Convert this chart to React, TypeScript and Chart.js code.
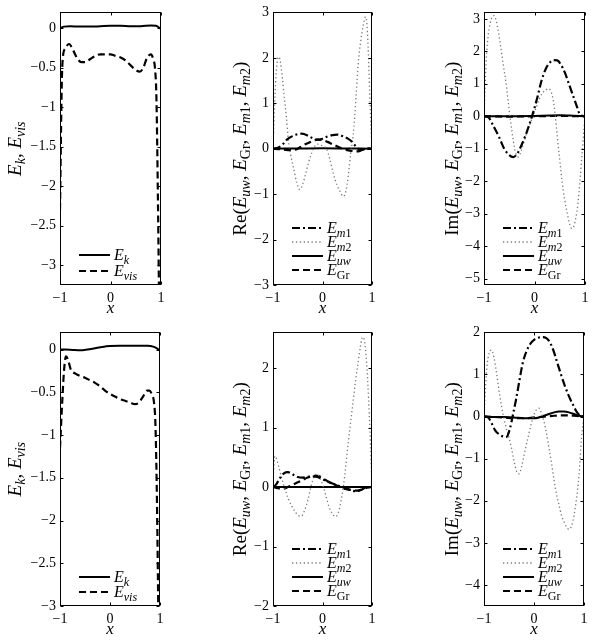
import React, { useEffect, useRef } from "react";
import { Chart, registerables } from "chart.js";

Chart.register(...registerables);

const SERIF = '"Liberation Serif", "Times New Roman", Times, serif';

// ---------------- tick labels ----------------
const xTickValues = [-1, 0, 1];
const p1YTicks = [0, -0.5, -1, -1.5, -2, -2.5, -3];
const p2YTicks = [-3, -2, -1, 0, 1, 2, 3];
const p3YTicks = [-5, -4, -3, -2, -1, 0, 1, 2, 3];
const p4YTicks = [0, -0.5, -1, -1.5, -2, -2.5, -3];
const p5YTicks = [-2, -1, 0, 1, 2];
const p6YTicks = [-4, -3, -2, -1, 0, 1, 2];

// ---------------- panel 1 (top left) ----------------
const p1EkX = [-1, -0.92, -0.8, -0.6, -0.4, -0.2, 0, 0.2, 0.4, 0.6, 0.8, 0.9, 1];
const p1EkY = [0, 0.02, 0.025, 0.02, 0.02, 0.025, 0.03, 0.03, 0.025, 0.025, 0.035, 0.03, -0.01];
const p1EvisX = [-1, -0.965, -0.94, -0.9, -0.82, -0.74, -0.66, -0.58, -0.5, -0.4, -0.3, -0.2, -0.1, 0, 0.1, 0.2, 0.3, 0.4, 0.5, 0.58, 0.65, 0.72, 0.8, 0.85, 0.88, 0.91, 0.94, 0.97, 1];
const p1EvisY = [-2.3, -0.7, -0.35, -0.26, -0.2, -0.28, -0.38, -0.43, -0.43, -0.39, -0.35, -0.33, -0.33, -0.33, -0.35, -0.37, -0.41, -0.47, -0.53, -0.55, -0.5, -0.38, -0.33, -0.4, -0.5, -0.9, -2.2, -3.8, -4.5];

// ---------------- panel 2 (top middle, Re) ----------------
const p2Em1X = [-1, -0.9, -0.8, -0.72, -0.6, -0.5, -0.42, -0.3, -0.2, -0.1, 0, 0.1, 0.2, 0.3, 0.4, 0.5, 0.58, 0.65, 0.72, 0.8, 0.9, 1];
const p2Em1Y = [0, 0.02, 0.1, 0.2, 0.28, 0.32, 0.33, 0.29, 0.23, 0.2, 0.22, 0.27, 0.3, 0.31, 0.28, 0.23, 0.17, 0.08, 0.0, -0.02, 0, 0];
const p2Em2X = [-1, -0.97, -0.94, -0.91, -0.88, -0.85, -0.81, -0.77, -0.73, -0.69, -0.64, -0.58, -0.52, -0.46, -0.4, -0.34, -0.28, -0.22, -0.16, -0.1, -0.04, 0.02, 0.08, 0.15, 0.22, 0.29, 0.36, 0.42, 0.47, 0.52, 0.57, 0.62, 0.65, 0.68, 0.72, 0.77, 0.82, 0.87, 0.9, 0.93, 0.96, 1];
const p2Em2Y = [0, 0.9, 1.6, 1.95, 2.02, 1.9, 1.55, 1.1, 0.7, 0.2, -0.15, -0.45, -0.75, -0.9, -0.78, -0.55, -0.3, -0.1, 0.05, 0.1, 0.08, 0.05, 0.0, -0.24, -0.55, -0.8, -0.95, -1.05, -0.95, -0.6, -0.1, 0.3, 0.7, 1.2, 1.85, 2.35, 2.7, 2.9, 2.7, 2.0, 1.0, 0];
const p2EuwX = [-1, -0.5, 0, 0.5, 1];
const p2EuwY = [0, 0.005, 0.01, 0.005, 0];
const p2EgrX = [-1, -0.85, -0.7, -0.6, -0.5, -0.4, -0.3, -0.2, -0.1, 0, 0.1, 0.2, 0.3, 0.4, 0.5, 0.6, 0.7, 0.8, 0.9, 1];
const p2EgrY = [0, -0.01, -0.03, -0.03, 0.0, 0.07, 0.12, 0.17, 0.2, 0.19, 0.15, 0.1, 0.05, 0.0, -0.03, -0.05, -0.06, -0.03, 0, 0];

// ---------------- panel 3 (top right, Im) ----------------
const p3Em1X = [-1, -0.92, -0.82, -0.7, -0.6, -0.5, -0.42, -0.34, -0.26, -0.18, -0.1, -0.02, 0.06, 0.14, 0.22, 0.3, 0.38, 0.45, 0.52, 0.6, 0.68, 0.76, 0.84, 0.9, 1];
const p3Em1Y = [0, -0.02, -0.28, -0.65, -1.0, -1.2, -1.26, -1.15, -0.9, -0.6, -0.25, 0.15, 0.6, 1.1, 1.45, 1.65, 1.73, 1.72, 1.6, 1.35, 1.0, 0.65, 0.3, 0.05, 0];
const p3Em2X = [-1, -0.96, -0.92, -0.88, -0.84, -0.8, -0.76, -0.72, -0.67, -0.62, -0.57, -0.52, -0.47, -0.42, -0.37, -0.32, -0.26, -0.2, -0.14, -0.08, -0.02, 0.04, 0.1, 0.16, 0.22, 0.28, 0.33, 0.37, 0.41, 0.45, 0.5, 0.55, 0.6, 0.65, 0.7, 0.74, 0.78, 0.82, 0.86, 0.9, 0.94, 0.97, 1];
const p3Em2Y = [0, 1.6, 2.45, 2.85, 3.05, 3.1, 2.95, 2.65, 2.15, 1.6, 1.1, 0.45, -0.2, -0.75, -1.15, -1.25, -1.05, -0.75, -0.45, -0.2, 0.05, 0.3, 0.55, 0.72, 0.8, 0.85, 0.75, 0.5, 0.05, -0.6, -1.35, -2.05, -2.6, -3.0, -3.35, -3.46, -3.38, -3.12, -2.7, -2.0, -1.2, -0.6, 0];
const p3EuwX = [-1, -0.5, 0, 0.3, 0.5, 0.7, 0.9, 1];
const p3EuwY = [0, 0, 0.01, 0.02, 0.03, 0.02, 0.01, 0];
const p3EgrX = [-1, -0.5, 0, 0.5, 1];
const p3EgrY = [0, -0.01, 0, 0.01, 0];

// ---------------- panel 4 (bottom left) ----------------
const p4EkX = [-1, -0.9, -0.75, -0.6, -0.45, -0.3, -0.15, 0, 0.2, 0.4, 0.6, 0.75, 0.88, 1];
const p4EkY = [0, 0.0, -0.005, -0.01, 0.0, 0.015, 0.03, 0.04, 0.045, 0.045, 0.045, 0.045, 0.03, -0.01];
const p4EvisX = [-1, -0.98, -0.95, -0.92, -0.88, -0.84, -0.78, -0.7, -0.6, -0.5, -0.4, -0.3, -0.2, -0.1, 0, 0.1, 0.2, 0.3, 0.4, 0.5, 0.58, 0.66, 0.74, 0.79, 0.84, 0.88, 0.91, 0.94, 0.97, 1];
const p4EvisY = [-1.15, -0.9, -0.55, -0.25, -0.08, -0.12, -0.24, -0.28, -0.31, -0.33, -0.36, -0.39, -0.43, -0.48, -0.52, -0.55, -0.58, -0.6, -0.62, -0.64, -0.62, -0.55, -0.48, -0.48, -0.53, -0.62, -0.9, -1.8, -3.2, -4.2];

// ---------------- panel 5 (bottom middle, Re) ----------------
const p5Em1X = [-1, -0.94, -0.86, -0.78, -0.7, -0.6, -0.5, -0.4, -0.3, -0.2, -0.1, 0, 0.1, 0.2, 0.3, 0.4, 0.5, 0.6, 0.7, 0.8, 0.9, 1];
const p5Em1Y = [0, 0.04, 0.15, 0.23, 0.25, 0.21, 0.17, 0.16, 0.17, 0.18, 0.17, 0.13, 0.09, 0.06, 0.03, 0.0, -0.03, -0.06, -0.07, -0.04, 0, 0];
const p5Em2X = [-1, -0.98, -0.96, -0.93, -0.89, -0.83, -0.76, -0.69, -0.62, -0.55, -0.49, -0.43, -0.36, -0.29, -0.23, -0.17, -0.11, -0.05, 0.01, 0.07, 0.13, 0.2, 0.26, 0.32, 0.37, 0.42, 0.47, 0.52, 0.57, 0.62, 0.67, 0.72, 0.77, 0.81, 0.85, 0.89, 0.93, 0.97, 1];
const p5Em2Y = [0.1, 0.4, 0.52, 0.48, 0.36, 0.17, -0.03, -0.2, -0.32, -0.42, -0.48, -0.49, -0.39, -0.2, 0.02, 0.17, 0.22, 0.15, 0.02, -0.15, -0.33, -0.45, -0.5, -0.43, -0.25, 0.0, 0.35, 0.75, 1.1, 1.45, 1.8, 2.1, 2.38, 2.52, 2.45, 2.1, 1.5, 0.7, 0];
const p5EuwX = [-1, -0.5, 0, 0.5, 1];
const p5EuwY = [0, 0, 0, 0, 0];
const p5EgrX = [-1, -0.9, -0.8, -0.7, -0.6, -0.5, -0.4, -0.3, -0.2, -0.1, 0, 0.1, 0.2, 0.3, 0.4, 0.5, 0.6, 0.7, 0.8, 0.9, 1];
const p5EgrY = [0, -0.02, -0.03, 0.0, 0.04, 0.08, 0.12, 0.16, 0.19, 0.19, 0.15, 0.1, 0.06, 0.02, -0.02, -0.04, -0.05, -0.06, -0.04, -0.01, 0];

// ---------------- panel 6 (bottom right, Im) ----------------
const p6Em1X = [-1, -0.92, -0.85, -0.78, -0.7, -0.62, -0.55, -0.48, -0.42, -0.36, -0.3, -0.22, -0.14, -0.06, 0.02, 0.1, 0.18, 0.24, 0.3, 0.38, 0.46, 0.54, 0.62, 0.7, 0.78, 0.86, 0.93, 1];
const p6Em1Y = [0, -0.02, -0.15, -0.32, -0.42, -0.47, -0.48, -0.28, 0.05, 0.4, 0.8, 1.3, 1.58, 1.75, 1.84, 1.88, 1.89, 1.87, 1.8, 1.6, 1.3, 1.0, 0.72, 0.48, 0.28, 0.1, 0.02, 0];
const p6Em2X = [-1, -0.97, -0.94, -0.9, -0.85, -0.8, -0.75, -0.7, -0.65, -0.6, -0.55, -0.5, -0.45, -0.4, -0.35, -0.3, -0.25, -0.2, -0.15, -0.1, -0.05, 0, 0.05, 0.1, 0.15, 0.2, 0.25, 0.3, 0.35, 0.4, 0.45, 0.5, 0.55, 0.6, 0.65, 0.7, 0.75, 0.8, 0.85, 0.9, 0.95, 1];
const p6Em2Y = [0, 0.7, 1.2, 1.5, 1.58, 1.4, 1.04, 0.62, 0.24, -0.05, -0.3, -0.5, -0.75, -1.05, -1.3, -1.36, -1.2, -0.92, -0.65, -0.4, -0.15, 0.05, 0.17, 0.2, 0.08, -0.12, -0.4, -0.75, -1.1, -1.5, -1.84, -2.1, -2.35, -2.5, -2.62, -2.68, -2.6, -2.35, -1.95, -1.4, -0.5, 0];
const p6EuwX = [-1, -0.8, -0.6, -0.4, -0.2, 0, 0.1, 0.2, 0.3, 0.4, 0.5, 0.6, 0.7, 0.8, 0.9, 1];
const p6EuwY = [0, -0.01, -0.01, -0.02, -0.04, -0.04, -0.02, 0.02, 0.06, 0.1, 0.12, 0.12, 0.1, 0.06, 0.02, 0];
const p6EgrX = [-1, -0.6, -0.4, -0.2, 0, 0.2, 0.4, 0.6, 0.8, 1];
const p6EgrY = [0, -0.02, -0.04, -0.04, -0.02, 0.0, 0.02, 0.03, 0.02, 0];

// ---------------- texts (rich segments: i = italic, s = subscript) ----------------
type Seg = [string, string];
const titleEnergy: Seg[] = [["E", "i"], ["k", "si"], [", ", ""], ["E", "i"], ["vis", "si"]];
const titleRe: Seg[] = [["Re(", ""], ["E", "i"], ["uw", "si"], [", ", ""], ["E", "i"], ["Gr", "s"], [", ", ""], ["E", "i"], ["m", "si"], ["1", "s"], [", ", ""], ["E", "i"], ["m", "si"], ["2", "s"], [")", ""]];
const titleIm: Seg[] = [["Im(", ""], ["E", "i"], ["uw", "si"], [", ", ""], ["E", "i"], ["Gr", "s"], [", ", ""], ["E", "i"], ["m", "si"], ["1", "s"], [", ", ""], ["E", "i"], ["m", "si"], ["2", "s"], [")", ""]];
const labelEk: Seg[] = [["E", "i"], ["k", "si"]];
const labelEvis: Seg[] = [["E", "i"], ["vis", "si"]];
const labelEm1: Seg[] = [["E", "i"], ["m", "si"], ["1", "s"]];
const labelEm2: Seg[] = [["E", "i"], ["m", "si"], ["2", "s"]];
const labelEuw: Seg[] = [["E", "i"], ["uw", "si"]];
const labelEgr: Seg[] = [["E", "i"], ["Gr", "s"]];

type StyleKey = "solid" | "dashed" | "dashdot" | "dotted";
const STY: Record<StyleKey, { color: string; width: number; dash: number[] }> = {
  solid: { color: "#000", width: 2, dash: [] },
  dashed: { color: "#000", width: 2.2, dash: [7, 4] },
  dashdot: { color: "#000", width: 2.2, dash: [8, 3, 2, 3] },
  dotted: { color: "#7a7a7a", width: 1.3, dash: [1.3, 2.6] },
};

interface Series { xs: number[]; ys: number[]; sty: StyleKey; }
interface LegendItem { label: Seg[]; sty: StyleKey; }
interface PanelCfg {
  key: string; left: number; top: number; w: number; h: number;
  aLeft: number; aRight: number; aTop: number; aBottom: number;
  yMin: number; yMax: number; yTicks: number[];
  title: Seg[]; titleOff: number;
  series: Series[]; legend: LegendItem[]; legendRows: number[];
}

const legendEnergy: LegendItem[] = [{ label: labelEk, sty: "solid" }, { label: labelEvis, sty: "dashed" }];
const legendModes: LegendItem[] = [
  { label: labelEm1, sty: "dashdot" },
  { label: labelEm2, sty: "dotted" },
  { label: labelEuw, sty: "solid" },
  { label: labelEgr, sty: "dashed" },
];

const panels: PanelCfg[] = [
  { key: "p1", left: 0, top: 0, w: 200, h: 320, aLeft: 60, aRight: 161, aTop: 12, aBottom: 285, yMin: -3.25, yMax: 0.2, yTicks: p1YTicks, title: titleEnergy, titleOff: 45,
    series: [{ xs: p1EkX, ys: p1EkY, sty: "solid" }, { xs: p1EvisX, ys: p1EvisY, sty: "dashed" }], legend: legendEnergy, legendRows: [-30, -14] },
  { key: "p2", left: 200, top: 0, w: 200, h: 320, aLeft: 73, aRight: 172, aTop: 12, aBottom: 285, yMin: -3, yMax: 3, yTicks: p2YTicks, title: titleRe, titleOff: 33,
    series: [{ xs: p2Em1X, ys: p2Em1Y, sty: "dashdot" }, { xs: p2Em2X, ys: p2Em2Y, sty: "dotted" }, { xs: p2EuwX, ys: p2EuwY, sty: "solid" }, { xs: p2EgrX, ys: p2EgrY, sty: "dashed" }], legend: legendModes, legendRows: [-57, -43, -29, -15] },
  { key: "p3", left: 400, top: 0, w: 198, h: 320, aLeft: 84, aRight: 185, aTop: 12, aBottom: 285, yMin: -5.2, yMax: 3.2, yTicks: p3YTicks, title: titleIm, titleOff: 32,
    series: [{ xs: p3Em1X, ys: p3Em1Y, sty: "dashdot" }, { xs: p3Em2X, ys: p3Em2Y, sty: "dotted" }, { xs: p3EuwX, ys: p3EuwY, sty: "solid" }, { xs: p3EgrX, ys: p3EgrY, sty: "dashed" }], legend: legendModes, legendRows: [-57, -43, -29, -15] },
  { key: "p4", left: 0, top: 320, w: 200, h: 320, aLeft: 60, aRight: 160, aTop: 12, aBottom: 286, yMin: -3, yMax: 0.2, yTicks: p4YTicks, title: titleEnergy, titleOff: 45,
    series: [{ xs: p4EkX, ys: p4EkY, sty: "solid" }, { xs: p4EvisX, ys: p4EvisY, sty: "dashed" }], legend: legendEnergy, legendRows: [-29, -14] },
  { key: "p5", left: 200, top: 320, w: 200, h: 320, aLeft: 73, aRight: 172, aTop: 12, aBottom: 286, yMin: -2, yMax: 2.6, yTicks: p5YTicks, title: titleRe, titleOff: 33,
    series: [{ xs: p5Em1X, ys: p5Em1Y, sty: "dashdot" }, { xs: p5Em2X, ys: p5Em2Y, sty: "dotted" }, { xs: p5EuwX, ys: p5EuwY, sty: "solid" }, { xs: p5EgrX, ys: p5EgrY, sty: "dashed" }], legend: legendModes, legendRows: [-57, -43, -29, -15] },
  { key: "p6", left: 400, top: 320, w: 198, h: 320, aLeft: 84, aRight: 184, aTop: 12, aBottom: 286, yMin: -4.5, yMax: 2, yTicks: p6YTicks, title: titleIm, titleOff: 32,
    series: [{ xs: p6Em1X, ys: p6Em1Y, sty: "dashdot" }, { xs: p6Em2X, ys: p6Em2Y, sty: "dotted" }, { xs: p6EuwX, ys: p6EuwY, sty: "solid" }, { xs: p6EgrX, ys: p6EgrY, sty: "dashed" }], legend: legendModes, legendRows: [-57, -43, -29, -15] },
];

const fmt = (v: number) => (v < 0 ? "\u2212" : "") + String(Math.abs(v));

function segFont(f: string, size: number) {
  const sub = f.includes("s");
  const it = f.includes("i");
  return `${it ? "italic " : ""}${sub ? Math.round(size * 0.72) : size}px ${SERIF}`;
}
function measureRich(ctx: CanvasRenderingContext2D, segs: Seg[], size: number) {
  let w = 0;
  for (const [t, f] of segs) { ctx.font = segFont(f, size); w += ctx.measureText(t).width; }
  return w;
}
function drawRich(ctx: CanvasRenderingContext2D, segs: Seg[], size: number, x: number, y: number) {
  ctx.textAlign = "left";
  ctx.textBaseline = "alphabetic";
  let cx = x;
  for (const [t, f] of segs) {
    ctx.font = segFont(f, size);
    ctx.fillText(t, cx, f.includes("s") ? y + size * 0.22 : y);
    cx += ctx.measureText(t).width;
  }
}

function makeDecor(p: PanelCfg) {
  return {
    id: "decor_" + p.key,
    afterDraw(chart: any) {
      const ctx = chart.ctx as CanvasRenderingContext2D;
      const a = chart.chartArea;
      const ys = chart.scales.y;
      const xs = chart.scales.x;
      ctx.save();
      ctx.strokeStyle = "#000";
      ctx.lineWidth = 1;
      ctx.setLineDash([]);
      const L = Math.round(a.left) + 0.5, R = Math.round(a.right) - 0.5;
      const T = Math.round(a.top) + 0.5, B = Math.round(a.bottom) - 0.5;
      ctx.strokeRect(L, T, R - L, B - T);
      ctx.beginPath();
      for (const v of p.yTicks) {
        const y = Math.round(ys.getPixelForValue(v)) + 0.5;
        ctx.moveTo(L, y); ctx.lineTo(L + 3, y);
        ctx.moveTo(R, y); ctx.lineTo(R - 3, y);
      }
      for (const v of xTickValues) {
        const x = Math.round(xs.getPixelForValue(v)) + 0.5;
        ctx.moveTo(x, B); ctx.lineTo(x, B - 3);
        ctx.moveTo(x, T); ctx.lineTo(x, T + 3);
      }
      ctx.stroke();

      // legend
      ctx.fillStyle = "#000";
      p.legend.forEach((item, i) => {
        const y = a.bottom + p.legendRows[i];
        const s = STY[item.sty];
        ctx.beginPath();
        ctx.strokeStyle = s.color;
        ctx.lineWidth = s.width;
        ctx.setLineDash(s.dash);
        ctx.moveTo(a.left + 19, y);
        ctx.lineTo(a.left + 50, y);
        ctx.stroke();
        ctx.setLineDash([]);
        drawRich(ctx, item.label, 16, a.left + 54, y + 5);
      });

      // y title
      const tSize = 19;
      const tw = measureRich(ctx, p.title, tSize);
      ctx.save();
      ctx.translate(a.left - p.titleOff, (a.top + a.bottom) / 2);
      ctx.rotate(-Math.PI / 2);
      drawRich(ctx, p.title, tSize, -tw / 2, tSize * 0.33);
      ctx.restore();

      // x title
      ctx.font = `italic 17px ${SERIF}`;
      ctx.textAlign = "center";
      ctx.textBaseline = "middle";
      ctx.fillText("x", (a.left + a.right) / 2, a.bottom + 24);
      ctx.restore();
    },
  };
}

function Panel({ p }: { p: PanelCfg }) {
  const ref = useRef<HTMLCanvasElement>(null);
  useEffect(() => {
    const canvas = ref.current;
    if (!canvas) return;
    const datasets = p.series.map((s) => ({
      data: s.xs.map((x, i) => ({ x, y: s.ys[i] })),
      borderColor: STY[s.sty].color,
      borderWidth: STY[s.sty].width,
      borderDash: STY[s.sty].dash,
      pointRadius: 0,
      fill: false,
      cubicInterpolationMode: "monotone" as const,
    }));
    const tickFont = { family: SERIF, size: 14 };
    const chart = new Chart(canvas, {
      type: "line",
      data: { datasets },
      options: {
        responsive: false,
        animation: false,
        events: [],
        layout: { padding: { left: 0, right: p.w - p.aRight, top: p.aTop, bottom: 0 } },
        plugins: { legend: { display: false }, tooltip: { enabled: false }, title: { display: false } },
        scales: {
          x: {
            type: "linear", min: -1, max: 1,
            grid: { display: false, drawTicks: false }, border: { display: false },
            afterBuildTicks: (s: any) => { s.ticks = xTickValues.map((v) => ({ value: v })); },
            afterFit: (s: any) => { s.height = p.h - p.aBottom; },
            ticks: { font: tickFont, color: "#000", padding: 5, autoSkip: false, maxRotation: 0, callback: (v: any) => fmt(Number(v)) },
          },
          y: {
            type: "linear", min: p.yMin, max: p.yMax,
            grid: { display: false, drawTicks: false }, border: { display: false },
            afterBuildTicks: (s: any) => { s.ticks = p.yTicks.map((v) => ({ value: v })); },
            afterFit: (s: any) => { s.width = p.aLeft; },
            ticks: { font: tickFont, color: "#000", padding: 4, autoSkip: false, callback: (v: any) => fmt(Number(v)) },
          },
        },
      },
      plugins: [makeDecor(p)],
    } as any);
    return () => chart.destroy();
  }, [p]);
  return (
    <canvas
      ref={ref}
      width={p.w}
      height={p.h}
      style={{ position: "absolute", left: p.left, top: p.top, width: p.w, height: p.h }}
    />
  );
}

export default function App() {
  return (
    <div style={{ position: "absolute", left: 0, top: 0, width: 598, height: 640, background: "#fff", overflow: "hidden" }}>
      {panels.map((p) => (
        <Panel key={p.key} p={p} />
      ))}
    </div>
  );
}
